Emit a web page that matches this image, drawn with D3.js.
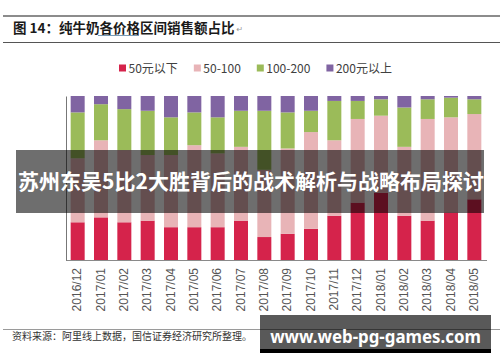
<!DOCTYPE html>
<html>
<head>
<meta charset="utf-8">
<script src="https://cdn.jsdelivr.net/npm/d3@7"></script>
<style>
body { margin: 0; background: #fff; }
svg { display: block; }
</style>
</head>
<body>
<script>
// 月份
const months = ['2016/12', '2017/01', '2017/02', '2017/03', '2017/04', '2017/05', '2017/06', '2017/07', '2017/08',
    '2017/09', '2017/10', '2017/11', '2017/12', '2018/01', '2018/02', '2018/03', '2018/04', '2018/05'];
// 各价格区间销售额占比 (%)
const below50 = [23, 26, 23, 24, 20, 20, 20, 24, 14, 16, 19, 27, 35, 41, 27, 24, 29, 37];
const from50to100 = [39, 47, 44, 40, 44, 50, 45, 45, 41, 52, 59, 46, 51, 47, 42, 62, 58, 52];
const from100to200 = [28, 22, 25, 27, 23, 20, 22, 22, 36, 22, 13, 24, 11, 10, 24, 12, 12, 9];
const above200 = [10, 5, 8, 9, 13, 10, 13, 9, 9, 10, 9, 3, 3, 2, 7, 2, 1, 2];
const seriesNames = ['50元以下', '50-100', '100-200', '200元以上'];
const seriesColors = ['#d5234b', '#e8b4b7', '#9bbb59', '#8064a2'];

var cjk = '"Noto Sans CJK SC", "Noto Sans", sans-serif';

var svg = d3.select('body')
    .append('svg')
    .attr('width', 500)
    .attr('height', 362);

svg.append('rect').attr('width', 500).attr('height', 362).attr('fill', '#fff');

// 标题
svg.append('line').attr('x1', 3).attr('x2', 500).attr('y1', 16).attr('y2', 16)
    .attr('stroke', '#8c8c8c').attr('stroke-width', 2);
svg.append('line').attr('x1', 3).attr('x2', 500).attr('y1', 42.5).attr('y2', 42.5)
    .attr('stroke', '#555').attr('stroke-width', 1);
var title = svg.append('text')
    .attr('x', 13)
    .attr('y', 33)
    .style('font-family', cjk)
    .style('font-size', '13.5px')
    .style('font-weight', 'bold')
    .attr('fill', '#1a1a1a')
    .text('图 14：纯牛奶各价格区间销售额占比');
svg.append('text')
    .attr('x', 13 + title.node().getComputedTextLength() + 2).attr('y', 32)
    .style('font-family', 'DejaVu Sans')
    .style('font-size', '8px')
    .attr('fill', '#999')
    .text('↵');
svg.append('path')
    .attr('d', 'M98,35.5 L139,35.5')
    .attr('stroke', '#7a9bb5').attr('stroke-width', 1).attr('fill', 'none');

// 数据
var rows = months.map(function(m, i) {
    return { month: m, '50元以下': below50[i], '50-100': from50to100[i], '100-200': from100to200[i], '200元以上': above200[i] };
});
var layers = d3.stack().keys(seriesNames).offset(d3.stackOffsetExpand)(rows);

var x = d3.scaleBand().domain(months).range([66, 486]).paddingInner(0.4).paddingOuter(0.2);
var y = d3.scaleLinear().domain([0, 1]).range([260, 96]);
var color = d3.scaleOrdinal().domain(seriesNames).range(seriesColors);

// 图例
var legend = svg.append('g').attr('transform', 'translate(119,0)');
var lx = 0;
seriesNames.forEach(function(name) {
    var item = legend.append('g').attr('transform', 'translate(' + lx + ',0)');
    item.append('rect').attr('x', 0).attr('y', 64.5).attr('width', 7).attr('height', 7).attr('fill', color(name));
    var t = item.append('text')
        .attr('x', 9.5)
        .attr('y', 72.5)
        .style('font-family', cjk)
        .style('font-size', '12px')
        .attr('fill', '#404040')
        .text(name);
    lx += 9.5 + t.node().getComputedTextLength() + 16;
});

// 柱子
svg.append('g')
    .selectAll('g')
    .data(layers)
    .enter()
    .append('g')
    .attr('fill', function(d) { return color(d.key); })
    .selectAll('rect')
    .data(function(d) { return d; })
    .enter()
    .append('rect')
    .attr('x', function(d) { return x(d.data.month); })
    .attr('y', function(d) { return y(d[1]); })
    .attr('height', function(d) { return y(d[0]) - y(d[1]); })
    .attr('width', x.bandwidth());

// 坐标轴
var xAxis = svg.append('g')
    .attr('transform', 'translate(0,260)')
    .call(d3.axisBottom(x).tickSize(0).tickSizeOuter(0));
xAxis.select('.domain').attr('stroke', '#8a8a8a').attr('d', 'M66,0.5H487');
xAxis.selectAll('text')
    .attr('transform', 'rotate(-90)')
    .attr('x', -8)
    .attr('y', 0)
    .attr('dy', '0.3em')
    .style('text-anchor', 'end')
    .style('font-family', '"Liberation Sans", Arial, sans-serif')
    .style('font-size', '12px')
    .attr('fill', '#555');

var yAxis = svg.append('g')
    .attr('transform', 'translate(66,0)')
    .call(d3.axisLeft(y).tickValues([]).tickSizeOuter(0));
yAxis.select('.domain').attr('stroke', '#777');

// 资料来源
svg.append('line').attr('x1', 3).attr('x2', 500).attr('y1', 329.5).attr('y2', 329.5)
    .attr('stroke', '#9a9a9a').attr('stroke-width', 1);
svg.append('text')
    .attr('x', 12)
    .attr('y', 340)
    .style('font-family', cjk)
    .style('font-size', '10px')
    .attr('fill', '#333')
    .text('资料来源：阿里线上数据，国信证券经济研究所整理。');

// 横幅
svg.append('rect')
    .attr('x', 16).attr('y', 150).attr('width', 468).attr('height', 63)
    .attr('fill', '#000').attr('fill-opacity', 0.57);
svg.append('text')
    .attr('x', 251)
    .attr('y', 189)
    .style('font-family', cjk)
    .style('font-size', '21px')
    .style('font-weight', 'bold')
    .style('text-anchor', 'middle')
    .attr('fill', '#fff')
    .text('苏州东吴5比2大胜背后的战术解析与战略布局探讨');

// 水印
svg.append('rect')
    .attr('x', 260).attr('y', 315).attr('width', 231).attr('height', 34)
    .attr('fill', '#000').attr('fill-opacity', 0.65);
svg.append('rect')
    .attr('x', 260).attr('y', 349).attr('width', 231).attr('height', 4)
    .attr('fill', '#000');
var mark = svg.append('text')
    .attr('x', 375.5)
    .attr('y', 343)
    .style('font-family', '"Noto Sans", sans-serif')
    .style('font-size', '20px')
    .style('font-weight', 'bold')
    .style('text-anchor', 'middle')
    .attr('fill', '#fff')
    .text('www.web-pg-games.com');
var mw = mark.node().getComputedTextLength();
mark.style('font-size', (20 * 211 / mw) + 'px');
</script>
</body>
</html>
